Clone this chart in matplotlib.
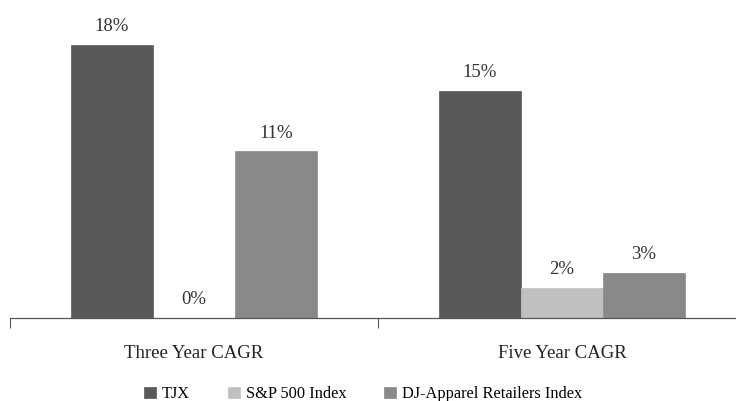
import numpy as np
import matplotlib.pyplot as plt

categories = ["Three Year CAGR", "Five Year CAGR"]
series_names = ["TJX", "S&P 500 Index", "DJ-Apparel Retailers Index"]
tjx = [18, 15]
sp500 = [0, 2]
dj_apparel = [11, 3]
value_labels = [["18%", "15%"], ["0%", "2%"], ["11%", "3%"]]

colors = ["#595959", "#c0c0c0", "#898989"]

plt.rcParams['font.family'] = ['Liberation Serif', 'DejaVu Serif']

fig = plt.figure(figsize=(7.36, 4.01), dpi=100)
ax = fig.add_axes([10 / 736, 83 / 401, 1.0, 318 / 401])

x = np.arange(len(categories)) + 0.5
width = 82 / 368
series = [tjx, sp500, dj_apparel]
for i, (vals, name, col) in enumerate(zip(series, series_names, colors)):
    pos = x + (i - 1) * width
    ax.bar(pos, vals, width, color=col, edgecolor=col, linewidth=0.5, label=name)
    for p, v, lab in zip(pos, vals, value_labels[i]):
        ax.annotate(lab, (p, v), xytext=(0, 13), textcoords='offset points',
                    ha='center', va='center', fontsize=13.5, color='#333333')

ax.set_xlim(0, 2)
ax.set_ylim(0, 318 / (273 / 18))

ax.set_xticks([0, 1, 2])
ax.set_xticklabels([])
ax.set_xticks(x, minor=True)
ax.set_xticklabels(categories, minor=True, fontsize=13.5, color='#222222')
ax.tick_params(axis='x', which='major', length=7, color='#555555', width=0.8)
ax.tick_params(axis='x', which='minor', length=0, pad=19.5)
ax.set_yticks([])
for s in ['top', 'right', 'left']:
    ax.spines[s].set_visible(False)
ax.spines['bottom'].set_color('#555555')
ax.spines['bottom'].set_linewidth(0.9)

fig.legend(loc='center', bbox_to_anchor=(363 / 736, 1 - 394 / 401), ncol=3,
           frameon=False, fontsize=11.8, handlelength=0.75, handleheight=0.7,
           handletextpad=0.35, columnspacing=2.3)

fig.savefig("out.png", dpi=100)
